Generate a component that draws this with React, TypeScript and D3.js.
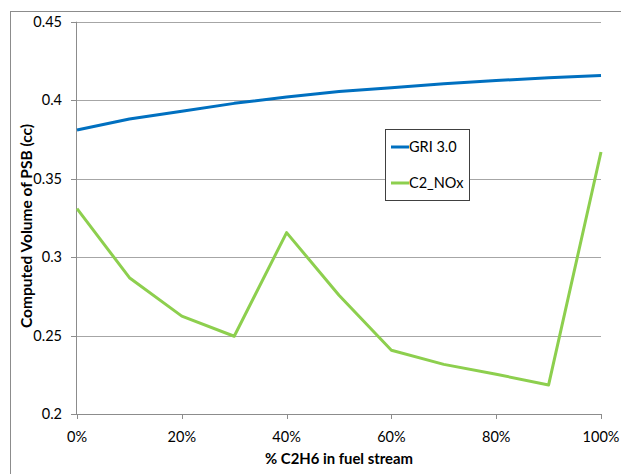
import React from "react";
import * as d3 from "d3";

const xValues = [0, 10, 20, 30, 40, 50, 60, 70, 80, 90, 100];
const griValues = [0.381, 0.388, 0.393, 0.398, 0.402, 0.4055, 0.408, 0.4105, 0.4125, 0.4143, 0.4157];
const c2Values = [0.331, 0.287, 0.2625, 0.2497, 0.3157, 0.2758, 0.2408, 0.2318, 0.2255, 0.2187, 0.367];
const yTicks = [0.2, 0.25, 0.3, 0.35, 0.4, 0.45];
const xTicks = [0, 20, 40, 60, 80, 100];
const seriesNames = ["GRI 3.0", "C2_NOx"];
const seriesColors = ["#0070C0", "#8DCF4E"];

const W = 621;
const H = 474;
const font = "Lato, 'Open Sans', sans-serif";

export default function App() {
  const x = d3.scaleLinear().domain([0, 100]).range([77, 601]);
  const y = d3.scaleLinear().domain([0.2, 0.45]).range([414.3, 21.7]);
  const line = d3
    .line<[number, number]>()
    .x((d) => x(d[0]))
    .y((d) => y(d[1]));
  const series = [griValues, c2Values];

  return (
    <svg
      width={W}
      height={H}
      style={{ position: "absolute", left: 0, top: 0, background: "#fff" }}
      fontFamily={font}
    >
      <rect x={10.5} y={11.5} width={640} height={480} fill="#fff" stroke="#8c8c8c" strokeWidth={1} />
      {yTicks.map((t) => (
        <g key={t}>
          {t > 0.2 && (
            <line x1={77} x2={601} y1={Math.round(y(t)) + 0.5} y2={Math.round(y(t)) + 0.5} stroke="#a6a6a6" strokeWidth={1} />
          )}
          <line x1={71} x2={77} y1={Math.round(y(t)) + 0.5} y2={Math.round(y(t)) + 0.5} stroke="#8c8c8c" strokeWidth={1} />
          <text x={62} y={y(t)} dy="0.35em" textAnchor="end" fontSize={14.5} fill="#000">
            {String(t)}
          </text>
        </g>
      ))}
      <line x1={76.5} x2={76.5} y1={y(0.45)} y2={y(0.2)} stroke="#8c8c8c" strokeWidth={1} />
      <line x1={77} x2={601.5} y1={414.5} y2={414.5} stroke="#8c8c8c" strokeWidth={1} />
      {xTicks.map((t) => (
        <g key={t}>
          <line x1={Math.round(x(t)) + 0.5} x2={Math.round(x(t)) + 0.5} y1={414} y2={419} stroke="#8c8c8c" strokeWidth={1} />
          <text x={x(t)} y={437} dy="0.35em" textAnchor="middle" fontSize={14.5} fill="#000">
            {t + "%"}
          </text>
        </g>
      ))}
      {series.map((vals, i) => (
        <path
          key={i}
          d={line(xValues.map((xv, j) => [xv, vals[j]] as [number, number])) || ""}
          fill="none"
          stroke={seriesColors[i]}
          strokeWidth={3}
          strokeLinejoin="round"
        />
      ))}
      <text
        x={339}
        y={458.5}
        dy="0.35em"
        textAnchor="middle"
        fontSize={14.5}
        fontWeight="bold"
        fill="#000"
        textLength={148}
        lengthAdjust="spacingAndGlyphs"
      >
        % C2H6 in fuel stream
      </text>
      <text
        transform={`translate(27,${226}) rotate(-90)`}
        textAnchor="middle"
        dy="0.35em"
        fontSize={14.5}
        fontWeight="bold"
        fill="#000"
        textLength={204}
        lengthAdjust="spacingAndGlyphs"
      >
        Computed Volume of PSB (cc)
      </text>
      <rect x={385.5} y={129.5} width={84} height={71} fill="#fff" stroke="#404040" strokeWidth={1} />
      {seriesNames.map((n, i) => (
        <g key={n}>
          <line x1={391} x2={409} y1={147 + i * 36} y2={147 + i * 36} stroke={seriesColors[i]} strokeWidth={3} />
          <text x={409} y={147 + i * 36} dy="0.35em" fontSize={14.5} fill="#000">
            {n}
          </text>
        </g>
      ))}
    </svg>
  );
}
